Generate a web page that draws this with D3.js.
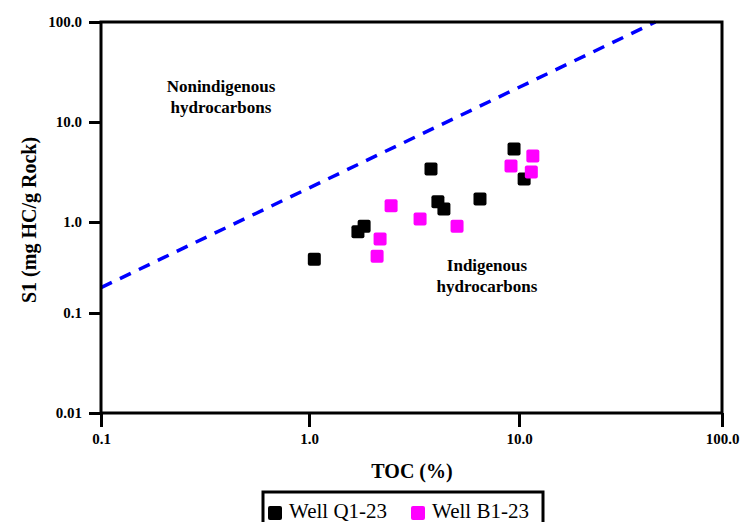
<!DOCTYPE html>
<html>
<head>
<meta charset="utf-8">
<script src="https://cdn.jsdelivr.net/npm/d3@7"></script>
<style>
  body { margin: 0; background: #fff; }
  svg text { font-family: "Liberation Serif", "Times New Roman", serif; }
</style>
</head>
<body>
<svg id="chart"></svg>
<script>
// data
let q1Toc = [1.06, 1.71, 1.83, 3.81, 4.11, 4.39, 6.52, 9.47, 10.6]
let q1S1 = [0.39, 0.78, 0.90, 3.39, 1.59, 1.35, 1.70, 5.37, 2.69]
let b1Toc = [2.46, 2.18, 2.11, 3.38, 5.07, 9.16, 11.7, 11.5]
let b1S1 = [1.45, 0.65, 0.42, 1.07, 0.90, 3.63, 4.57, 3.16]

// boundary between the two fields
let lineToc = [0.1, 47]
let lineS1 = [0.19, 100]

let xTicks = [0.1, 1, 10, 100]
let xTickLabels = ["0.1", "1.0", "10.0", "100.0"]
let yTicks = [0.01, 0.1, 1, 10, 100]
let yTickLabels = ["0.01", "0.1", "1.0", "10.0", "100.0"]

let w = 741
let h = 522
let padL = 101, padR = 722, padT = 22, padB = 413

let svg = d3.select("#chart").attr("width", w).attr("height", h)

// decades are not quite even in the original, so map tick by tick
let xScale = d3.scaleLog().domain(xTicks).range([padL, 309, 519, padR])
let yScale = d3.scaleLog().domain(yTicks).range([padB, 313, 222, 122, padT])

// dashed boundary line
let pts = lineToc.map((d, i) => [d, lineS1[i]])
svg.append("path")
   .datum(pts)
   .attr("d", d3.line().x(d => xScale(d[0])).y(d => yScale(d[1])))
   .attr("fill", "none")
   .attr("stroke", "#0000ff")
   .attr("stroke-width", 3.5)
   .attr("stroke-dasharray", "12,9")

// frame
svg.append("rect")
   .attr("x", padL).attr("y", padT)
   .attr("width", padR - padL).attr("height", padB - padT)
   .attr("fill", "none")
   .attr("stroke", "#000")
   .attr("stroke-width", 3)

let xAxis = d3.axisBottom(xScale)
              .tickValues(xTicks)
              .tickFormat((d, i) => xTickLabels[i])
              .tickSize(14)
              .tickSizeOuter(0)
              .tickPadding(6)
let yAxis = d3.axisLeft(yScale)
              .tickValues(yTicks)
              .tickFormat((d, i) => yTickLabels[i])
              .tickSize(12)
              .tickSizeOuter(0)
              .tickPadding(7)

let gx = svg.append("g")
   .attr("transform", "translate(0," + padB + ")")
   .call(xAxis)
let gy = svg.append("g")
   .attr("transform", "translate(" + padL + ",0)")
   .call(yAxis)

;[gx, gy].forEach(g => {
  g.select(".domain").remove()
  g.selectAll("line").attr("stroke", "#000").attr("stroke-width", 3)
  g.selectAll("text")
   .attr("fill", "#000")
   .style("font-size", "15px")
   .style("font-weight", "bold")
   .style("font-family", "'Liberation Serif', 'Times New Roman', serif")
})

// points
let sq = 13
let drawSeries = (tocs, s1s, color) => {
  svg.append("g")
     .selectAll("rect")
     .data(tocs.map((d, i) => [d, s1s[i]]))
     .enter()
     .append("rect")
     .attr("x", d => xScale(d[0]) - sq / 2)
     .attr("y", d => yScale(d[1]) - sq / 2)
     .attr("width", sq)
     .attr("height", sq)
     .attr("rx", 2)
     .attr("fill", color)
}
drawSeries(q1Toc, q1S1, "#000")
drawSeries(b1Toc, b1S1, "#ff00ff")

// region labels
let regionLabel = (x, y, lines) => {
  let t = svg.append("text")
     .attr("x", x).attr("y", y)
     .attr("text-anchor", "middle")
     .style("font-size", "17px")
     .style("font-weight", "bold")
  lines.forEach((l, i) => {
    t.append("tspan").attr("x", x).attr("dy", i === 0 ? 0 : 21).text(l)
  })
}
regionLabel(221, 92, ["Nonindigenous", "hydrocarbons"])
regionLabel(487, 271, ["Indigenous", "hydrocarbons"])

// axis titles
svg.append("text")
   .attr("x", 412).attr("y", 478)
   .attr("text-anchor", "middle")
   .style("font-size", "20px")
   .style("font-weight", "bold")
   .text("TOC (%)")

svg.append("text")
   .attr("transform", "translate(36,220) rotate(-90)")
   .attr("text-anchor", "middle")
   .style("font-size", "20px")
   .style("font-weight", "bold")
   .text("S1 (mg HC/g Rock)")

// legend
let legend = svg.append("g")
legend.append("rect")
   .attr("x", 263).attr("y", 492)
   .attr("width", 280).attr("height", 45)
   .attr("fill", "#fff")
   .attr("stroke", "#000")
   .attr("stroke-width", 3)

let legendItems = [["Well Q1-23", "#000", 268], ["Well B1-23", "#ff00ff", 411]]
legendItems.forEach(d => {
  legend.append("rect")
     .attr("x", d[2]).attr("y", 506)
     .attr("width", 14).attr("height", 14)
     .attr("rx", 2)
     .attr("fill", d[1])
  legend.append("text")
     .attr("x", d[2] + 21).attr("y", 518)
     .style("font-size", "21px")
     .text(d[0])
})
</script>
</body>
</html>
